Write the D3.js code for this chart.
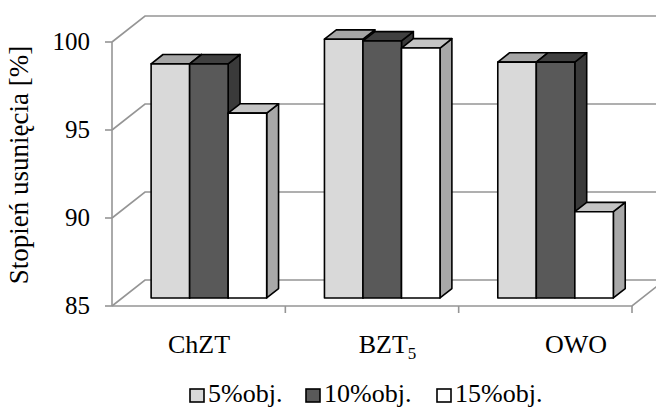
<!DOCTYPE html>
<html>
<head>
<meta charset="utf-8">
<script src="https://cdn.jsdelivr.net/npm/d3@7"></script>
<style>
  body { margin: 0; background: #fff; }
</style>
</head>
<body>
<div id="chart"></div>
<script>
// data
var categories = ["ChZT", "BZT", "OWO"];
var series = ["5%obj.", "10%obj.", "15%obj."];
var values5 = [98.3, 99.7, 98.4];
var values10 = [98.3, 99.6, 98.4];
var values15 = [95.5, 99.2, 89.9];
var yTicks = [85, 90, 95, 100];

var seriesValues = [values5, values10, values15];
// front / top / side shades for each series
var fills = [
  {front: "#d9d9d9", top: "#a6a6a6", side: "#a6a6a6"},
  {front: "#595959", top: "#404040", side: "#3a3a3a"},
  {front: "#ffffff", top: "#c4c4c4", side: "#a8a8a8"}
];

var width = 656, height = 407;
// depth vector of the 3d box and bar depth range
var depthX = 33, depthY = -26;
var zFront = 0.31, zBack = 0.67;

var svg = d3.select("#chart")
  .append("svg")
    .attr("width", width)
    .attr("height", height)
    .style("font-family", "'Liberation Serif', 'DejaVu Serif', 'Times New Roman', serif");

// scales on the front plane
var y = d3.scaleLinear()
  .domain([85, 100])
  .range([306, 42]);
var x0 = d3.scaleBand()
  .domain(categories)
  .range([112, 632]);
var x1 = d3.scaleBand()
  .domain(series)
  .range([0, x0.bandwidth()])
  .paddingOuter(0.75);
// labels sit a bit right of the band centres (perspective)
var xLab = d3.scalePoint()
  .domain(categories)
  .range([199, 576]);

// projection of (x, value, depth) to the screen
function p(xv, v, z) {
  return [xv + z * depthX, y(v) + z * depthY];
}
function poly(pts) {
  return "M" + pts.map(function(d) { return d[0] + "," + d[1]; }).join("L") + "Z";
}

var grid = "#959595";
var xL = x0.range()[0], xR = x0.range()[1];

// back wall gridlines + side wall diagonals
yTicks.forEach(function(t) {
  var a = p(xL, t, 0), b = p(xL, t, 1), c = p(xR, t, 1);
  svg.append("path")
    .attr("d", "M" + a + "L" + b + "L" + Math.min(c[0], width + 5) + "," + c[1])
    .attr("fill", "none")
    .attr("stroke", grid)
    .attr("stroke-width", 1.6);
});

// floor front edge and right edge
svg.append("path")
  .attr("d", "M" + p(xL, 85, 0) + "L" + p(xR, 85, 0) + "L" + p(xR, 85, 1))
  .attr("fill", "none")
  .attr("stroke", grid)
  .attr("stroke-width", 1.6);

// value axis line + ticks
svg.append("line")
  .attr("x1", xL).attr("x2", xL)
  .attr("y1", y(100)).attr("y2", y(85))
  .attr("stroke", grid)
  .attr("stroke-width", 1.6);
svg.selectAll(".ytick")
  .data(yTicks)
  .enter().append("line")
    .attr("x1", xL - 7).attr("x2", xL)
    .attr("y1", function(d) { return y(d); })
    .attr("y2", function(d) { return y(d); })
    .attr("stroke", grid)
    .attr("stroke-width", 1.6);
svg.selectAll(".ylab")
  .data(yTicks)
  .enter().append("text")
    .attr("x", 90)
    .attr("y", function(d) { return y(d) + 8; })
    .attr("text-anchor", "end")
    .attr("font-size", 25)
    .text(function(d) { return d; });

// category ticks
var catTicks = categories.map(function(c) { return x0(c) + x0.bandwidth(); });
svg.selectAll(".xtick")
  .data(catTicks)
  .enter().append("line")
    .attr("x1", function(d) { return d; })
    .attr("x2", function(d) { return d; })
    .attr("y1", y(85)).attr("y2", y(85) + 7)
    .attr("stroke", grid)
    .attr("stroke-width", 1.6);

// bars, left to right so later bars cover earlier side faces
categories.forEach(function(c, i) {
  series.forEach(function(s, j) {
    var v = seriesValues[j][i];
    var xa = x0(c) + x1(s), xb = xa + x1.bandwidth();
    var g = svg.append("g")
      .attr("stroke", "#000")
      .attr("stroke-width", 1.6)
      .attr("stroke-linejoin", "round");
    // right side
    g.append("path")
      .attr("d", poly([p(xb, 85, zFront), p(xb, v, zFront), p(xb, v, zBack), p(xb, 85, zBack)]))
      .attr("fill", fills[j].side);
    // top
    g.append("path")
      .attr("d", poly([p(xa, v, zFront), p(xa, v, zBack), p(xb, v, zBack), p(xb, v, zFront)]))
      .attr("fill", fills[j].top);
    // front
    g.append("path")
      .attr("d", poly([p(xa, 85, zFront), p(xa, v, zFront), p(xb, v, zFront), p(xb, 85, zFront)]))
      .attr("fill", fills[j].front);
  });
});

// category labels
var catLab = svg.selectAll(".xlab")
  .data(categories)
  .enter().append("text")
    .attr("x", function(d) { return xLab(d); })
    .attr("y", 353)
    .attr("text-anchor", "middle")
    .attr("font-size", 26)
    .text(function(d) { return d; });
catLab.filter(function(d) { return d == "BZT"; })
  .append("tspan")
    .attr("font-size", 17)
    .attr("dy", 6)
    .text("5");

// y axis title
svg.append("text")
  .attr("transform", "translate(28,165) rotate(-90)")
  .attr("text-anchor", "middle")
  .attr("font-size", 27)
  .text("Stopień usunięcia [%]");

// legend
var legendX = [190, 306, 437];
var legend = svg.selectAll(".leg")
  .data(series)
  .enter().append("g")
    .attr("transform", function(d, i) { return "translate(" + legendX[i] + ",389)"; });
legend.append("rect")
  .attr("width", 14)
  .attr("height", 13)
  .attr("fill", function(d, i) { return fills[i].front; })
  .attr("stroke", "#000")
  .attr("stroke-width", 1.6);
legend.append("text")
  .attr("x", 18)
  .attr("y", 13)
  .attr("font-size", 26)
  .text(function(d) { return d; });
</script>
</body>
</html>
